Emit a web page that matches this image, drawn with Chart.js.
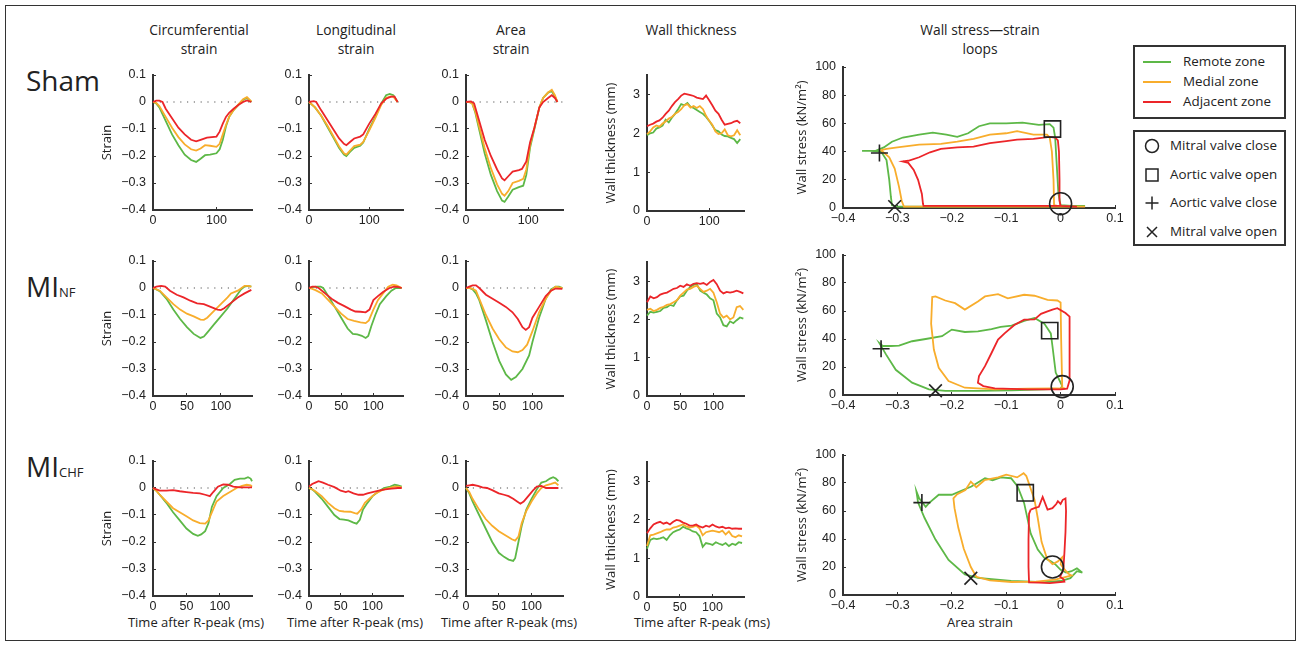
<!DOCTYPE html>
<html>
<head>
<meta charset="utf-8">
<title>Regional strain, wall thickness and wall stress–strain loops</title>
<script src="https://cdn.jsdelivr.net/npm/chart.js@4.4.1/dist/chart.umd.min.js"></script>
<style>
  html, body { margin: 0; padding: 0; background: #fff; overflow: hidden; }
  #fig { position: relative; width: 1303px; height: 648px; font-family: "Open Sans", sans-serif; color: #222; }
  #frame { position: absolute; left: 5px; top: 5px; width: 1291px; height: 636px; border: 1.5px solid #333; box-sizing: border-box; }
  .ctitle { position: absolute; font-size: 13.8px; line-height: 18.5px; text-align: center; width: 160px; }
  .xtitle { position: absolute; font-size: 13px; line-height: 18px; text-align: center; width: 180px; top: 613px; white-space: nowrap; }
  .rlabel { position: absolute; font-size: 28px; line-height: 34px; left: 26px; }
  .rlabel small { font-size: 13px; }
  .box { position: absolute; border: 2px solid #333; box-sizing: border-box; }
  .leg { position: absolute; font-size: 13.4px; line-height: 16px; white-space: nowrap; }
  canvas { position: absolute; }
</style>
</head>
<body>
<div id="fig">
  <div id="frame"></div>

  <div class="ctitle" style="left:119px;top:21px">Circumferential<br>strain</div>
  <div class="ctitle" style="left:276px;top:21px">Longitudinal<br>strain</div>
  <div class="ctitle" style="left:431px;top:21px">Area<br>strain</div>
  <div class="ctitle" style="left:611px;top:21px">Wall thickness</div>
  <div class="ctitle" style="left:880px;top:21px;width:200px">Wall stress—strain<br>loops</div>

  <div class="rlabel" style="top:63px">Sham</div>
  <div class="rlabel" style="top:269px">MI<small>NF</small></div>
  <div class="rlabel" style="top:449px">MI<small>CHF</small></div>

  <div class="xtitle" style="left:106px">Time after R-peak (ms)</div>
  <div class="xtitle" style="left:265px">Time after R-peak (ms)</div>
  <div class="xtitle" style="left:419px">Time after R-peak (ms)</div>
  <div class="xtitle" style="left:612px">Time after R-peak (ms)</div>
  <div class="xtitle" style="left:890px">Area strain</div>

  <div class="box" style="left:1133px;top:45px;width:153px;height:74px"></div>
  <div class="box" style="left:1133px;top:130px;width:153px;height:116px"></div>
  <div id="legend"></div>
</div>

<script>
// ---- colours / series names ----
const zoneNames   = ['Remote zone', 'Medial zone', 'Adjacent zone'];
const zoneColors  = ['#5db847', '#f8ad2c', '#ec2529'];
const valveEvents = ['Mitral valve close', 'Aortic valve open', 'Aortic valve close', 'Mitral valve open'];

// ---- tick labels ----
const timeTicksSham = [0, 100];
const timeTicks     = [0, 50, 100];
const strainTicks   = [-0.4, -0.3, -0.2, -0.1, 0, 0.1];
const wallTicks     = [0, 1, 2, 3];
const loopXTicks    = [-0.4, -0.3, -0.2, -0.1, 0, 0.1];
const loopYTicks    = [0, 20, 40, 60, 80, 100];

// ---- Sham: strain vs time (ms, strain) ----
const shamCircRemote = [[0,0],[5,-0.005],[10,-0.02],[20,-0.07],[30,-0.12],[40,-0.16],[50,-0.195],[60,-0.215],[68,-0.222],[75,-0.21],[82,-0.197],[90,-0.195],[100,-0.19],[105,-0.175],[110,-0.14],[115,-0.09],[120,-0.055],[127,-0.03],[135,-0.01],[142,0.008],[148,0.015],[155,0]];
const shamCircMedial = [[0,0],[5,-0.003],[10,-0.015],[20,-0.055],[30,-0.095],[40,-0.13],[50,-0.157],[60,-0.175],[68,-0.18],[75,-0.172],[82,-0.16],[90,-0.162],[100,-0.166],[105,-0.155],[110,-0.12],[115,-0.085],[120,-0.055],[127,-0.03],[135,-0.008],[142,0.01],[148,0.018],[155,0.002]];
const shamCircAdj    = [[0,0],[5,0.005],[10,0.005],[15,0],[20,-0.025],[30,-0.06],[40,-0.095],[50,-0.12],[60,-0.14],[68,-0.146],[75,-0.14],[85,-0.132],[100,-0.128],[105,-0.11],[110,-0.08],[115,-0.055],[120,-0.04],[127,-0.025],[135,-0.01],[142,0],[148,0.006],[155,0]];

const shamLongRemote = [[0,0],[10,-0.02],[20,-0.05],[30,-0.09],[40,-0.13],[50,-0.17],[58,-0.195],[62,-0.2],[68,-0.185],[75,-0.17],[85,-0.162],[90,-0.15],[100,-0.1],[110,-0.055],[120,-0.005],[128,0.025],[134,0.03],[140,0.025],[147,0]];
const shamLongMedial = [[0,0],[10,-0.02],[20,-0.05],[30,-0.085],[40,-0.125],[50,-0.165],[58,-0.19],[62,-0.195],[68,-0.18],[75,-0.163],[85,-0.158],[90,-0.148],[100,-0.105],[110,-0.06],[120,-0.01],[128,0.015],[134,0.02],[140,0.02],[147,0]];
const shamLongAdj    = [[0,0],[8,0.003],[12,0],[20,-0.03],[30,-0.065],[40,-0.1],[50,-0.135],[58,-0.155],[62,-0.16],[68,-0.148],[75,-0.135],[85,-0.128],[90,-0.12],[100,-0.08],[110,-0.045],[120,-0.005],[128,0.012],[136,0.02],[142,0.02],[147,0]];

const shamAreaRemote = [[0,0],[5,0],[10,-0.005],[15,-0.04],[20,-0.09],[30,-0.19],[40,-0.27],[50,-0.33],[58,-0.365],[62,-0.37],[68,-0.35],[75,-0.325],[85,-0.315],[92,-0.31],[97,-0.27],[103,-0.17],[110,-0.1],[118,-0.02],[124,0.015],[132,0.035],[138,0.04],[143,0.02],[147,0]];
const shamAreaMedial = [[0,0],[5,0],[10,-0.005],[15,-0.035],[20,-0.08],[30,-0.17],[40,-0.245],[50,-0.305],[58,-0.34],[62,-0.347],[68,-0.33],[75,-0.3],[85,-0.292],[92,-0.285],[97,-0.25],[103,-0.16],[110,-0.095],[118,-0.02],[124,0.015],[132,0.035],[138,0.045],[143,0.025],[147,0]];
const shamAreaAdj    = [[0,0],[8,0.002],[13,-0.005],[20,-0.06],[30,-0.14],[40,-0.2],[50,-0.25],[58,-0.283],[62,-0.29],[68,-0.275],[75,-0.258],[85,-0.252],[90,-0.248],[97,-0.22],[103,-0.15],[110,-0.095],[118,-0.02],[124,0],[132,0.015],[138,0.025],[143,0.015],[147,0]];

// ---- MI NF: strain vs time ----
const nfCircRemote = [[0,0],[5,-0.005],[10,-0.012],[20,-0.04],[30,-0.08],[40,-0.115],[50,-0.145],[60,-0.17],[70,-0.185],[75,-0.18],[80,-0.165],[90,-0.135],[100,-0.105],[110,-0.075],[120,-0.04],[130,-0.005],[135,0.005],[140,0.008],[145,0.005]];
const nfCircMedial = [[0,0],[10,-0.01],[20,-0.035],[30,-0.06],[40,-0.08],[50,-0.095],[60,-0.105],[70,-0.117],[75,-0.118],[80,-0.11],[90,-0.085],[100,-0.06],[110,-0.035],[115,-0.02],[125,-0.01],[135,0.008],[140,0.008],[145,0.005]];
const nfCircAdj    = [[0,0],[5,0.005],[12,0.008],[18,0.005],[25,-0.01],[35,-0.025],[45,-0.035],[55,-0.047],[65,-0.057],[75,-0.06],[85,-0.07],[95,-0.08],[100,-0.082],[105,-0.075],[115,-0.055],[125,-0.035],[135,-0.02],[145,-0.007]];

const nfLongRemote = [[0,0],[5,0.003],[12,0.005],[18,0.005],[22,0],[30,-0.03],[40,-0.07],[50,-0.11],[60,-0.15],[68,-0.17],[75,-0.172],[82,-0.177],[88,-0.185],[92,-0.178],[97,-0.14],[103,-0.1],[110,-0.06],[120,-0.03],[128,-0.01],[135,0],[144,0]];
const nfLongMedial = [[0,0],[5,-0.003],[10,-0.008],[20,-0.02],[30,-0.045],[40,-0.07],[50,-0.095],[60,-0.115],[70,-0.122],[80,-0.127],[88,-0.13],[93,-0.12],[100,-0.08],[107,-0.045],[115,-0.02],[123,0.005],[130,0.012],[136,0.01],[144,0]];
const nfLongAdj    = [[0,0],[5,0.005],[10,0.005],[15,0],[25,-0.02],[35,-0.04],[45,-0.055],[55,-0.067],[65,-0.08],[72,-0.087],[80,-0.088],[88,-0.09],[94,-0.08],[100,-0.045],[107,-0.03],[115,-0.015],[125,0],[132,0.005],[138,0.004],[144,0]];

const nfAreaRemote = [[0,0],[5,0],[10,-0.005],[15,-0.02],[20,-0.045],[30,-0.12],[40,-0.2],[50,-0.27],[60,-0.32],[68,-0.34],[75,-0.33],[85,-0.3],[95,-0.25],[100,-0.2],[110,-0.11],[120,-0.04],[128,-0.005],[135,0.005],[140,0.005],[145,0]];
const nfAreaMedial = [[0,0],[5,0],[10,-0.003],[15,-0.01],[20,-0.04],[30,-0.1],[40,-0.15],[50,-0.19],[60,-0.22],[70,-0.235],[78,-0.238],[85,-0.23],[92,-0.21],[100,-0.16],[110,-0.09],[120,-0.04],[128,-0.01],[135,0.005],[140,0.002],[145,0]];
const nfAreaAdj    = [[0,0],[5,0.005],[10,0.01],[15,0.01],[20,0],[30,-0.025],[40,-0.04],[50,-0.055],[60,-0.07],[70,-0.09],[78,-0.115],[85,-0.145],[90,-0.155],[95,-0.145],[100,-0.11],[110,-0.07],[120,-0.03],[128,-0.01],[135,-0.002],[145,-0.003]];

// ---- MI CHF: strain vs time ----
const chfCircRemote = [[0,0],[5,-0.01],[10,-0.025],[20,-0.055],[30,-0.09],[40,-0.12],[50,-0.15],[60,-0.17],[67,-0.177],[72,-0.172],[78,-0.16],[83,-0.13],[88,-0.07],[95,-0.03],[105,0],[115,0.015],[122,0.03],[130,0.035],[137,0.035],[142,0.04],[146,0.035],[148,0.025]];
const chfCircMedial = [[0,0],[5,-0.01],[10,-0.025],[20,-0.05],[30,-0.075],[40,-0.09],[50,-0.105],[60,-0.12],[70,-0.13],[78,-0.132],[83,-0.12],[88,-0.09],[95,-0.05],[105,-0.03],[115,-0.015],[125,0],[133,0.008],[140,0.012],[146,0.01],[148,0.005]];
const chfCircAdj    = [[0,0],[5,-0.005],[10,-0.01],[20,-0.01],[30,-0.008],[40,-0.012],[50,-0.015],[60,-0.018],[70,-0.02],[78,-0.025],[85,-0.03],[90,-0.015],[97,0.005],[105,0.013],[112,0.012],[120,0.005],[130,0.002],[140,0.002],[148,0.002]];

const chfLongRemote = [[0,0],[5,-0.005],[10,-0.015],[20,-0.04],[30,-0.07],[40,-0.1],[48,-0.115],[55,-0.117],[62,-0.12],[70,-0.128],[75,-0.132],[80,-0.118],[85,-0.08],[92,-0.055],[100,-0.03],[110,-0.012],[118,0],[128,0.005],[135,0.012],[140,0.01],[146,0.005]];
const chfLongMedial = [[0,0],[5,-0.005],[10,-0.012],[20,-0.03],[30,-0.055],[40,-0.075],[48,-0.085],[55,-0.087],[65,-0.088],[72,-0.093],[76,-0.095],[82,-0.08],[88,-0.055],[95,-0.04],[105,-0.02],[115,-0.008],[125,0],[135,0.005],[140,0.005],[146,0.002]];
const chfLongAdj    = [[0,0.005],[5,0.015],[10,0.02],[15,0.025],[22,0.02],[30,0.012],[40,0.003],[50,-0.01],[58,-0.015],[62,-0.012],[70,-0.02],[78,-0.025],[85,-0.025],[92,-0.02],[100,-0.015],[110,-0.01],[120,-0.005],[130,-0.002],[140,0],[146,0]];

const chfAreaRemote = [[0,0],[5,-0.02],[10,-0.05],[20,-0.1],[30,-0.15],[40,-0.2],[50,-0.24],[58,-0.255],[65,-0.265],[72,-0.27],[75,-0.26],[80,-0.2],[85,-0.14],[92,-0.08],[100,-0.04],[108,-0.005],[115,0.02],[122,0.025],[128,0.035],[133,0.04],[137,0.035],[141,0.025]];
const chfAreaMedial = [[0,0],[5,-0.015],[10,-0.04],[20,-0.08],[30,-0.115],[40,-0.14],[50,-0.16],[60,-0.175],[70,-0.19],[75,-0.195],[80,-0.18],[85,-0.13],[92,-0.085],[100,-0.05],[108,-0.02],[115,0],[122,0.01],[130,0.015],[136,0.02],[141,0.01]];
const chfAreaAdj    = [[0,0.008],[5,0.01],[10,0.012],[18,0.008],[25,0.002],[32,0],[40,-0.008],[50,-0.02],[58,-0.025],[65,-0.03],[72,-0.04],[78,-0.05],[83,-0.058],[88,-0.05],[95,-0.03],[102,-0.01],[108,0.005],[115,0.008],[122,0],[130,0],[141,0]];

// ---- wall thickness (mm) sampled every 5 ms ----
const wallTimeSham = [0,5,10,15,20,25,30,35,40,45,50,55,60,65,70,75,80,85,90,95,100,105,110,115,120,125,130,135,140,145,150];
const wallTime     = [0,5,10,15,20,25,30,35,40,45,50,55,60,65,70,75,80,85,90,95,100,105,110,115,120,125,130,135,140,145];
const shamWallRemote = [1.95,2.0,2.02,2.12,2.15,2.2,2.35,2.28,2.4,2.5,2.62,2.75,2.72,2.78,2.68,2.65,2.6,2.55,2.5,2.42,2.32,2.2,2.08,2.05,1.97,1.93,1.92,1.88,1.85,1.75,1.85];
const shamWallMedial = [1.98,2.05,2.15,2.2,2.17,2.25,2.3,2.38,2.42,2.5,2.55,2.62,2.72,2.75,2.66,2.7,2.65,2.7,2.62,2.45,2.32,2.22,2.05,1.98,2.0,2.1,1.95,1.92,1.95,2.08,1.95];
const shamWallAdj    = [2.18,2.22,2.25,2.3,2.33,2.4,2.5,2.58,2.7,2.8,2.88,2.97,3.02,3.0,2.98,2.96,2.92,2.9,2.88,2.97,2.85,2.72,2.58,2.5,2.35,2.22,2.24,2.26,2.3,2.32,2.26];
const nfWallRemote   = [2.1,2.2,2.18,2.2,2.22,2.3,2.32,2.38,2.35,2.5,2.6,2.62,2.75,2.85,2.9,2.92,2.75,2.7,2.65,2.55,2.5,2.15,2.05,1.85,1.82,1.95,1.9,1.98,2.05,2.02];
const nfWallMedial   = [2.25,2.28,2.22,2.25,2.3,2.33,2.38,2.4,2.45,2.5,2.62,2.7,2.78,2.8,2.85,2.88,2.8,2.72,2.75,2.8,2.7,2.45,2.15,2.05,2.1,2.0,2.05,2.32,2.35,2.25];
const nfWallAdj      = [2.45,2.6,2.55,2.58,2.65,2.68,2.7,2.75,2.8,2.82,2.88,2.85,2.92,2.88,2.93,2.95,2.93,2.95,2.9,2.98,3.03,2.92,2.75,2.68,2.72,2.7,2.72,2.75,2.72,2.68];
const chfWallRemote  = [1.25,1.48,1.52,1.5,1.52,1.55,1.48,1.6,1.68,1.72,1.75,1.82,1.78,1.75,1.7,1.68,1.58,1.3,1.4,1.38,1.35,1.42,1.38,1.35,1.4,1.32,1.38,1.35,1.42,1.4];
const chfWallMedial  = [1.32,1.6,1.62,1.65,1.68,1.72,1.75,1.75,1.8,1.82,1.85,1.88,1.83,1.8,1.82,1.85,1.78,1.6,1.68,1.7,1.72,1.7,1.68,1.72,1.62,1.7,1.58,1.55,1.6,1.57];
const chfWallAdj     = [1.65,1.78,1.88,1.92,1.95,1.9,1.93,1.88,1.95,2.0,1.98,1.93,1.9,1.85,1.85,1.88,1.83,1.8,1.85,1.82,1.88,1.83,1.8,1.82,1.78,1.8,1.77,1.78,1.77,1.77];

// ---- wall stress (kN/m2) vs area strain loops ----
const shamLoopRemote = [[0.045,1.5],[0.02,1.5],[0,2],[-0.004,10],[-0.007,30],[-0.01,50],[-0.013,57],[-0.02,59.5],[-0.04,59],[-0.07,60.5],[-0.1,60],[-0.13,60],[-0.15,58],[-0.17,53],[-0.19,50.5],[-0.21,52],[-0.235,53.5],[-0.26,52],[-0.29,50],[-0.31,47],[-0.325,43],[-0.34,40.5],[-0.365,40.5],[-0.35,40.5],[-0.33,40],[-0.32,34],[-0.315,20],[-0.312,8],[-0.31,2],[-0.3,1],[-0.2,1],[-0.1,1],[0,1.2],[0.045,1.5]];
const shamLoopMedial = [[0.045,1],[0,1],[-0.012,2],[-0.013,20],[-0.016,40],[-0.02,50],[-0.025,52],[-0.05,52],[-0.08,54.5],[-0.1,53],[-0.13,52],[-0.16,49],[-0.19,47],[-0.22,45.5],[-0.26,45],[-0.3,43],[-0.32,42],[-0.33,41],[-0.315,36],[-0.305,28],[-0.297,15],[-0.292,5],[-0.288,1],[-0.2,1],[-0.1,1],[0,1],[0.045,1]];
const shamLoopAdj    = [[0.03,1],[0,1.5],[-0.002,5],[-0.002,20],[-0.003,40],[-0.005,48],[-0.01,50],[-0.02,50.5],[-0.05,49],[-0.08,48.5],[-0.1,47.5],[-0.13,46],[-0.16,43.5],[-0.19,43],[-0.22,42],[-0.24,39.5],[-0.26,36],[-0.28,33.5],[-0.29,33],[-0.28,32],[-0.27,27],[-0.262,20],[-0.255,10],[-0.253,3],[-0.252,1.5],[-0.2,1.5],[-0.1,1.5],[0,1.5],[0.03,1]];
const shamValves     = [[0,3],[-0.015,56],[-0.333,39],[-0.305,1]];

const nfLoopRemote = [[0,4.5],[0.003,6.4],[-0.009,16],[-0.015,35],[-0.018,44],[-0.03,51],[-0.048,55],[-0.067,53],[-0.09,49.5],[-0.11,48.6],[-0.127,47],[-0.152,45.5],[-0.176,45],[-0.2,46.7],[-0.218,42],[-0.248,40],[-0.273,38.4],[-0.297,35.3],[-0.312,35],[-0.327,35],[-0.333,37],[-0.321,29],[-0.303,18],[-0.273,8.8],[-0.242,4],[-0.212,3],[-0.152,3],[-0.09,3.3],[-0.03,4],[0,4.5]];
const nfLoopMedial = [[0.009,4.5],[0.003,5],[0.001,40],[0,66],[-0.006,67.5],[-0.024,68],[-0.048,70.9],[-0.067,71.6],[-0.097,69],[-0.115,72],[-0.139,70.4],[-0.152,66.8],[-0.176,61],[-0.194,65.6],[-0.212,67.5],[-0.23,70.4],[-0.236,70],[-0.238,51],[-0.233,32.5],[-0.224,19.4],[-0.206,10],[-0.176,5.2],[-0.121,4],[-0.061,4.5],[-0.012,4.7],[0.009,4.5]];
const nfLoopAdj    = [[0,4],[0.012,4.5],[0.017,11],[0.017,39.6],[0.016,56],[0.009,58.5],[-0.006,62],[-0.015,61],[-0.024,59.7],[-0.036,58],[-0.048,54],[-0.067,53.8],[-0.085,50],[-0.103,44],[-0.115,39.6],[-0.127,30],[-0.139,20.6],[-0.15,13.5],[-0.152,8.8],[-0.142,6.4],[-0.121,4.7],[-0.061,4],[0,4]];
const nfValves     = [[0.003,6],[-0.02,46],[-0.33,33],[-0.23,3]];

const chfLoopRemote = [[0.04,16],[0.03,19],[0.02,17],[0.01,16],[0,18],[-0.01,22],[-0.018,24],[-0.03,26.5],[-0.042,32.5],[-0.055,44],[-0.067,65.6],[-0.079,77.5],[-0.091,83.4],[-0.11,84],[-0.125,82],[-0.139,83.4],[-0.164,77.5],[-0.2,71.6],[-0.224,71.6],[-0.242,65.6],[-0.248,63],[-0.26,69],[-0.265,74],[-0.262,66],[-0.25,55],[-0.23,39.6],[-0.206,25],[-0.176,14.7],[-0.152,12.3],[-0.091,10],[-0.03,9.2],[0,10],[0.018,12],[0.03,17],[0.04,16]];
const chfLoopMedial = [[0.015,15],[0.01,17],[0,22],[0.003,27],[-0.005,24],[-0.015,22],[-0.025,26],[-0.035,38],[-0.042,55],[-0.048,68],[-0.055,76],[-0.063,85],[-0.068,87],[-0.08,84],[-0.1,86],[-0.115,84],[-0.14,82],[-0.155,77],[-0.165,81],[-0.175,75],[-0.19,72],[-0.197,69],[-0.195,62],[-0.188,48],[-0.178,33],[-0.165,20],[-0.155,13],[-0.13,10.5],[-0.09,9.3],[-0.045,9.5],[-0.01,11],[0.01,13],[0.02,14],[0.015,15]];
const chfLoopAdj    = [[-0.055,61],[-0.048,62],[-0.04,63],[-0.033,70],[-0.03,67],[-0.024,61],[-0.015,62],[-0.008,65],[-0.005,67],[0,65],[0.004,68],[0.009,69],[0.01,60],[0.009,45],[0.007,30],[0.005,18],[-0.001,13],[0.006,11],[0.007,9.5],[-0.02,8.5],[-0.04,8.8],[-0.058,9],[-0.059,20],[-0.059,40],[-0.058,58],[-0.055,61]];
const chfValves     = [[-0.015,20],[-0.065,73],[-0.255,66],[-0.165,12]];

// ---- layout ----
const COLX = [[153, 252], [309, 403], [466, 563], [647, 744], [843, 1115]];
const ROWS_STRAIN = [[75, 210], [261, 396], [461, 596]];
const ROWS_WALL   = [[75, 211], [262, 396], [462, 597]];
const ROWS_LOOP   = [[67, 208], [255, 395], [455, 595]];
const TIME_MAX    = [156, 146, 148];

const AXIS = '#333';
const TICK_FONT  = { family: 'Liberation Sans, Arial, sans-serif', size: 12.5 };
const TITLE_FONT = { family: 'Open Sans, sans-serif', size: 13 };
const valveStyles = [
  { pointStyle: 'circle',   radius: 11 },
  { pointStyle: 'rect',     radius: 11.5 },
  { pointStyle: 'cross',    radius: 8.5 },
  { pointStyle: 'crossRot', radius: 9 }
];

const fmt = v => (v < 0 ? '\u2212' + (-v) : String(v));

function zoneSets(series) {
  // reversed so the red (adjacent) trace is drawn on top
  return series.map((data, i) => ({
    label: zoneNames[i],
    data: data,
    showLine: true,
    borderColor: zoneColors[i],
    borderWidth: 1.8,
    pointRadius: 0,
    fill: false,
    clip: false
  })).reverse();
}

function axisOpts(min, max, ticks, title, extent, isX) {
  return {
    type: 'linear',
    min: min,
    max: max,
    afterFit: s => { if (isX) s.height = extent; else s.width = extent; },
    afterBuildTicks: s => { s.ticks = ticks.map(v => ({ value: v })); },
    grid: { display: true, drawOnChartArea: false, drawTicks: true, tickLength: -3, color: AXIS, lineWidth: 1 },
    border: { display: true, color: AXIS, width: 2 },
    ticks: { autoSkip: false, maxRotation: 0, padding: isX ? 6 : 10, color: '#222', font: TICK_FONT, callback: fmt },
    title: { display: !!title, text: title || '', color: '#222', font: TITLE_FONT, padding: { top: 4, bottom: 4 } }
  };
}

function panel(col, rowBox, opt) {
  const [x0, x1] = COLX[col];
  const [y0, y1] = rowBox;
  const PT = 22, PR = 18, XH = 24;   // room for the scales' own label padding
  const w = x1 - x0 + opt.yw + PR;
  const h = y1 - y0 + PT + XH;
  const c = document.createElement('canvas');
  c.width = w; c.height = h;
  c.style.left = (x0 - opt.yw) + 'px';
  c.style.top = (y0 - PT) + 'px';
  c.style.width = w + 'px';
  c.style.height = h + 'px';
  document.getElementById('fig').appendChild(c);

  new Chart(c, {
    type: 'scatter',
    data: { datasets: opt.datasets },
    options: {
      responsive: false,
      animation: false,
      layout: { padding: { left: 0, right: PR, top: PT, bottom: 0 } },
      plugins: { legend: { display: false }, tooltip: { enabled: false } },
      elements: { line: { tension: 0 }, point: { radius: 0 } },
      scales: {
        x: axisOpts(opt.xmin, opt.xmax, opt.xticks, '', XH, true),
        y: axisOpts(opt.ymin, opt.ymax, opt.yticks, opt.ytitle, opt.yw, false)
      }
    }
  });
}

function strainPanel(col, row, series) {
  const tmax = TIME_MAX[row];
  const zero = {
    data: [[0, 0], [tmax, 0]], showLine: true, borderColor: '#555', borderWidth: 1.1,
    borderDash: [1.2, 5.6], pointRadius: 0
  };
  panel(col, ROWS_STRAIN[row], {
    datasets: zoneSets(series).concat([zero]),
    xmin: 0, xmax: tmax, xticks: row === 0 ? timeTicksSham : timeTicks,
    ymin: -0.4, ymax: 0.1, yticks: strainTicks,
    ytitle: col === 0 ? 'Strain' : '',
    yw: 58
  });
}

function wallPanel(row, times, series) {
  panel(3, ROWS_WALL[row], {
    datasets: zoneSets(series.map(vals => vals.map((v, i) => [times[i], v]))),
    xmin: 0, xmax: TIME_MAX[row], xticks: row === 0 ? timeTicksSham : timeTicks,
    ymin: 0, ymax: 3.5, yticks: wallTicks,
    ytitle: 'Wall thickness (mm)',
    yw: 48
  });
}

function loopPanel(row, series, valves) {
  const marks = valves.map((p, i) => ({
    label: valveEvents[i],
    data: [p],
    pointStyle: valveStyles[i].pointStyle,
    pointRadius: valveStyles[i].radius,
    pointBorderColor: '#222',
    pointBackgroundColor: 'rgba(0,0,0,0)',
    pointBorderWidth: 1.6,
    showLine: false,
    clip: false
  }));
  panel(4, ROWS_LOOP[row], {
    datasets: marks.concat(zoneSets(series)),
    xmin: -0.4, xmax: 0.1, xticks: loopXTicks,
    ymin: 0, ymax: 100, yticks: loopYTicks,
    ytitle: 'Wall stress (kN/m\u00B2)',
    yw: 53
  });
}

strainPanel(0, 0, [shamCircRemote, shamCircMedial, shamCircAdj]);
strainPanel(1, 0, [shamLongRemote, shamLongMedial, shamLongAdj]);
strainPanel(2, 0, [shamAreaRemote, shamAreaMedial, shamAreaAdj]);
wallPanel(0, wallTimeSham, [shamWallRemote, shamWallMedial, shamWallAdj]);
loopPanel(0, [shamLoopRemote, shamLoopMedial, shamLoopAdj], shamValves);

strainPanel(0, 1, [nfCircRemote, nfCircMedial, nfCircAdj]);
strainPanel(1, 1, [nfLongRemote, nfLongMedial, nfLongAdj]);
strainPanel(2, 1, [nfAreaRemote, nfAreaMedial, nfAreaAdj]);
wallPanel(1, wallTime, [nfWallRemote, nfWallMedial, nfWallAdj]);
loopPanel(1, [nfLoopRemote, nfLoopMedial, nfLoopAdj], nfValves);

strainPanel(0, 2, [chfCircRemote, chfCircMedial, chfCircAdj]);
strainPanel(1, 2, [chfLongRemote, chfLongMedial, chfLongAdj]);
strainPanel(2, 2, [chfAreaRemote, chfAreaMedial, chfAreaAdj]);
wallPanel(2, wallTime, [chfWallRemote, chfWallMedial, chfWallAdj]);
loopPanel(2, [chfLoopRemote, chfLoopMedial, chfLoopAdj], chfValves);

// ---- legends (right-hand boxes) ----
(function buildLegend() {
  const leg = document.getElementById('legend');
  let html = '';
  zoneNames.forEach((name, i) => {
    const y = 62 + i * 20;
    html += `<div style="position:absolute;left:1143px;top:${y - 1}px;width:28px;height:2px;background:${zoneColors[i]}"></div>`;
    html += `<div class="leg" style="left:1183px;top:${y - 9}px">${name}</div>`;
  });
  const symY = [146, 175, 203, 232];
  const symbols = [
    '<circle cx="8" cy="8" r="6.5" fill="none" stroke="#222" stroke-width="1.5"/>',
    '<rect x="2" y="2" width="12" height="12" fill="none" stroke="#222" stroke-width="1.5"/>',
    '<path d="M8 1.5V14.5M1.5 8H14.5" stroke="#222" stroke-width="1.5"/>',
    '<path d="M3 3L13 13M13 3L3 13" stroke="#222" stroke-width="1.5"/>'
  ];
  valveEvents.forEach((name, i) => {
    html += `<svg style="position:absolute;left:1144px;top:${symY[i] - 8}px" width="16" height="16">${symbols[i]}</svg>`;
    html += `<div class="leg" style="left:1170px;top:${symY[i] - 9}px">${name}</div>`;
  });
  leg.innerHTML = html;
})();
</script>
</body>
</html>
